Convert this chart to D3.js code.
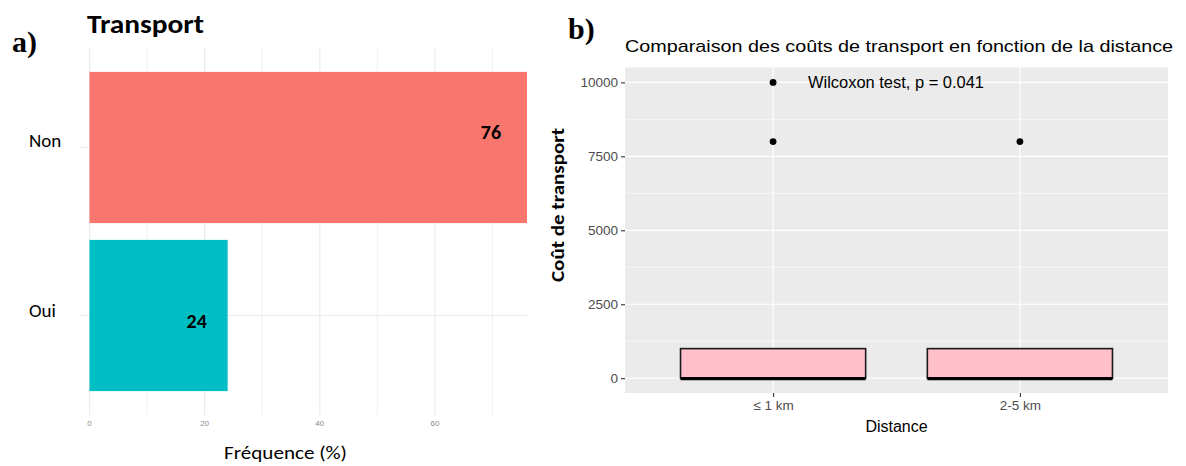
<!DOCTYPE html>
<html>
<head>
<meta charset="utf-8">
<script src="https://cdn.jsdelivr.net/npm/d3@7"></script>
<style>
  html, body { margin: 0; padding: 0; background: #fff; }
  svg { display: block; }
</style>
</head>
<body>
<div id="chart"></div>
<script>
// ---- data: panel a) ----
const transportCats = ['Non', 'Oui'];
const transportFreq = [76, 24];
const transportColors = ['#F8766D', '#00BFC4'];
const freqTicks = [0, 20, 40, 60];
const freqMinorTicks = [10, 30, 50, 70];

// ---- data: panel b) ----
const distanceCats = ['≤ 1 km', '2-5 km'];
const costLower = [0, 0];      // lower whisker
const costQ1 = [0, 0];
const costMedian = [0, 0];
const costQ3 = [1000, 1000];
const costUpper = [1000, 1000]; // upper whisker
const costOutliers = [[10000, 8000], [8000]];
const costTicks = [0, 2500, 5000, 7500, 10000];
const costMinorTicks = [1250, 3750, 6250, 8750];
const testLabel = 'Wilcoxon test, p = 0.041';

const W = 1186, H = 466;
const calibri = 'Carlito, Lato, "Open Sans", sans-serif';
const arial = '"Liberation Sans", Arial, sans-serif';
const serif = '"Liberation Serif", "Times New Roman", serif';

const svg = d3.select('#chart').append('svg')
  .attr('width', W).attr('height', H)
  .style('background', '#fff');

// ================= panel a) =================
function drawBars() {
  const x = d3.scaleLinear().domain([0, 76]).range([89.5, 527]);
  const y = d3.scaleBand().domain(transportCats)
    .range([46.7, 416.3]).paddingInner(0.1).paddingOuter(0.15);
  const g = svg.append('g');

  // grid
  g.selectAll('.vminor').data(freqMinorTicks).enter().append('line')
    .attr('x1', d => x(d)).attr('x2', d => x(d))
    .attr('y1', 48).attr('y2', 415)
    .attr('stroke', '#F0F0F0').attr('stroke-width', 1);
  g.selectAll('.vmajor').data(freqTicks).enter().append('line')
    .attr('x1', d => x(d)).attr('x2', d => x(d))
    .attr('y1', 48).attr('y2', 415)
    .attr('stroke', '#EBEBEB').attr('stroke-width', 1.2);
  g.selectAll('.hgrid').data(transportCats).enter().append('line')
    .attr('x1', 80).attr('x2', x(76))
    .attr('y1', d => y(d) + y.bandwidth() / 2).attr('y2', d => y(d) + y.bandwidth() / 2)
    .attr('stroke', '#EBEBEB').attr('stroke-width', 1.2);

  // bars
  g.selectAll('.bar').data(transportCats).enter().append('rect')
    .attr('x', x(0))
    .attr('y', d => y(d))
    .attr('width', (d, i) => x(transportFreq[i]) - x(0))
    .attr('height', y.bandwidth())
    .attr('fill', (d, i) => transportColors[i]);

  // value labels
  g.selectAll('.val').data(transportCats).enter().append('text')
    .attr('x', (d, i) => x(transportFreq[i]) - (i === 0 ? 36 : 31))
    .attr('y', (d, i) => y(d) + y.bandwidth() / 2 + (i === 0 ? -9 : 12))
    .attr('text-anchor', 'middle')
    .style('font-family', calibri).style('font-weight', 'bold')
    .style('font-size', '20px').attr('fill', '#000')
    .text((d, i) => transportFreq[i]);

  // category labels
  g.selectAll('.cat').data(transportCats).enter().append('text')
    .attr('x', 29)
    .attr('y', d => y(d) + y.bandwidth() / 2 - 1 + (d === 'Oui' ? 2 : 0))
    .style('font-family', calibri).style('font-size', '19px').attr('fill', '#000')
    .text(d => d);

  // x tick labels
  g.selectAll('.xt').data(freqTicks).enter().append('text')
    .attr('x', d => x(d)).attr('y', 426)
    .attr('text-anchor', 'middle')
    .style('font-family', arial).style('font-size', '8px').attr('fill', '#8A8A8A')
    .text(d => d);

  // axis title
  g.append('text').attr('x', 285.5).attr('y', 459)
    .attr('text-anchor', 'middle')
    .style('font-family', calibri).style('font-size', '19px').attr('fill', '#000')
    .attr('textLength', 123).attr('lengthAdjust', 'spacingAndGlyphs')
    .text('Fréquence (%)');

  // title
  g.append('text').attr('x', 87).attr('y', 33)
    .style('font-family', calibri).style('font-weight', 'bold')
    .style('font-size', '26px').attr('fill', '#000')
    .attr('textLength', 117).attr('lengthAdjust', 'spacingAndGlyphs')
    .text('Transport');

  g.append('text').attr('x', 12).attr('y', 52)
    .style('font-family', serif).style('font-weight', 'bold')
    .style('font-size', '30px').attr('fill', '#000')
    .text('a)');
}

// ================= panel b) =================
function drawBoxes() {
  const left = 625, right = 1168, top = 67.6, bottom = 393;
  const x = d3.scalePoint().domain(distanceCats).range([left, right]).padding(0.6);
  const y = d3.scaleLinear().domain([-500, 10500]).range([bottom, top]);
  const boxW = x.step() * 0.75;
  const g = svg.append('g');

  g.append('rect').attr('x', left).attr('y', top)
    .attr('width', right - left).attr('height', bottom - top)
    .attr('fill', '#EBEBEB');

  g.selectAll('.hminor').data(costMinorTicks).enter().append('line')
    .attr('x1', left).attr('x2', right)
    .attr('y1', d => y(d)).attr('y2', d => y(d))
    .attr('stroke', '#fff').attr('stroke-width', 0.6);
  g.selectAll('.hmajor').data(costTicks).enter().append('line')
    .attr('x1', left).attr('x2', right)
    .attr('y1', d => y(d)).attr('y2', d => y(d))
    .attr('stroke', '#fff').attr('stroke-width', 1.2);
  g.selectAll('.vmajor').data(distanceCats).enter().append('line')
    .attr('x1', d => x(d)).attr('x2', d => x(d))
    .attr('y1', top).attr('y2', bottom)
    .attr('stroke', '#fff').attr('stroke-width', 1.2);

  // whiskers
  g.selectAll('.wlo').data(distanceCats).enter().append('line')
    .attr('x1', d => x(d)).attr('x2', d => x(d))
    .attr('y1', (d, i) => y(costLower[i])).attr('y2', (d, i) => y(costQ1[i]))
    .attr('stroke', '#000').attr('stroke-width', 1);
  g.selectAll('.whi').data(distanceCats).enter().append('line')
    .attr('x1', d => x(d)).attr('x2', d => x(d))
    .attr('y1', (d, i) => y(costQ3[i])).attr('y2', (d, i) => y(costUpper[i]))
    .attr('stroke', '#000').attr('stroke-width', 1);

  // boxes
  g.selectAll('.box').data(distanceCats).enter().append('rect')
    .attr('x', d => x(d) - boxW / 2)
    .attr('y', (d, i) => y(costQ3[i]))
    .attr('width', boxW)
    .attr('height', (d, i) => y(costQ1[i]) - y(costQ3[i]))
    .attr('fill', '#FFC0CB').attr('stroke', '#1a1a1a').attr('stroke-width', 1.6);

  // medians
  g.selectAll('.med').data(distanceCats).enter().append('line')
    .attr('x1', d => x(d) - boxW / 2).attr('x2', d => x(d) + boxW / 2)
    .attr('y1', (d, i) => y(costMedian[i]) + 0.5).attr('y2', (d, i) => y(costMedian[i]) + 0.5)
    .attr('stroke', '#000').attr('stroke-width', 3.2);

  // outliers
  const pts = [];
  costOutliers.forEach((arr, i) => arr.forEach(v => pts.push({ cat: distanceCats[i], v })));
  g.selectAll('.out').data(pts).enter().append('circle')
    .attr('cx', d => x(d.cat)).attr('cy', d => y(d.v)).attr('r', 3.4)
    .attr('fill', '#000');

  // test label
  g.append('text').attr('x', 808).attr('y', y(10000) + 6)
    .style('font-family', arial).style('font-size', '16px').attr('fill', '#000')
    .attr('textLength', 176).attr('lengthAdjust', 'spacingAndGlyphs')
    .text(testLabel);

  // y axis
  const yAxis = g.append('g').attr('transform', `translate(${left},0)`)
    .call(d3.axisLeft(y).tickValues(costTicks).tickSize(4).tickPadding(3).tickFormat(d3.format('d')));
  yAxis.select('.domain').remove();
  yAxis.selectAll('line').attr('stroke', '#333').attr('stroke-width', 1.1);
  yAxis.selectAll('text').attr('fill', '#4D4D4D')
    .style('font-family', arial).style('font-size', '13.5px');

  // x axis
  const xAxis = g.append('g').attr('transform', `translate(0,${bottom})`)
    .call(d3.axisBottom(x).tickSize(4).tickPadding(3));
  xAxis.select('.domain').remove();
  xAxis.selectAll('line').attr('stroke', '#333').attr('stroke-width', 1.1);
  xAxis.selectAll('text').attr('fill', '#4D4D4D')
    .style('font-family', arial).style('font-size', '13.5px');

  // axis titles
  g.append('text').attr('x', (left + right) / 2).attr('y', 432)
    .attr('text-anchor', 'middle')
    .style('font-family', arial).style('font-size', '16px').attr('fill', '#000')
    .text('Distance');

  g.append('text')
    .attr('transform', 'translate(564,205) rotate(-90)')
    .attr('text-anchor', 'middle')
    .style('font-family', calibri).style('font-weight', 'bold')
    .style('font-size', '19px').attr('fill', '#000')
    .attr('textLength', 154).attr('lengthAdjust', 'spacingAndGlyphs')
    .text('Coût de transport');

  // title
  g.append('text').attr('x', left).attr('y', 52)
    .style('font-family', arial).style('font-size', '17px').attr('fill', '#000')
    .attr('textLength', 548).attr('lengthAdjust', 'spacingAndGlyphs')
    .text('Comparaison des coûts de transport en fonction de la distance');

  g.append('text').attr('x', 568).attr('y', 39)
    .style('font-family', serif).style('font-weight', 'bold')
    .style('font-size', '30px').attr('fill', '#000')
    .text('b)');
}

drawBars();
drawBoxes();
</script>
</body>
</html>
